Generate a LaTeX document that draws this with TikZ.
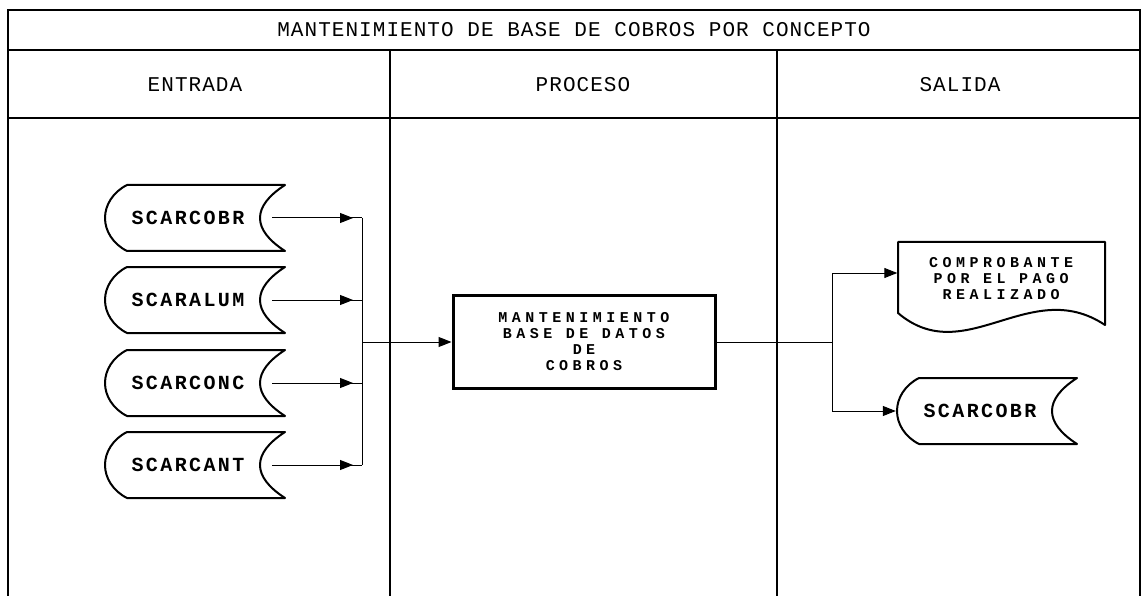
\documentclass[tikz,border=0pt]{standalone}
\usepackage{fontspec}
\usetikzlibrary{arrows.meta,calc,decorations.markings}
\newfontfamily\plotfont[LetterSpace=12]{Liberation Mono}
\newfontfamily\headfont[LetterSpace=5]{Liberation Mono}
\newfontfamily\smallfont[LetterSpace=30]{Liberation Mono}
\tikzset{
  frame/.style={line width=1.4pt},
  headtext/.style={font=\headfont\fontsize{21}{21}\selectfont},
  storebox/.style={font=\plotfont\bfseries\fontsize{20}{20}\selectfont, minimum width=168pt, minimum height=66pt, inner sep=0pt},
  docbox/.style={font=\smallfont\bfseries\fontsize{15}{16}\selectfont, align=center, minimum width=207pt, inner sep=0pt},
  procbox/.style={draw, line width=3pt, align=center, minimum width=262pt, minimum height=93pt, font=\smallfont\bfseries\fontsize{15}{16}\selectfont},
  shapeline/.style={line width=2pt, line join=round},
  flow/.style={line width=1pt, -{Triangle[length=13pt,width=10pt]}},
  midflow/.style={line width=1pt, postaction={decorate}, decoration={markings, mark=at position -9pt with {\arrow{Triangle[length=13pt,width=10pt]}}}}
}
\begin{document}
\begin{tikzpicture}[x=1pt, y=-1pt]
  \useasboundingbox (0,0) rectangle (1146,596);
  % table frame
  \draw[frame] (8,596) -- (8,10) -- (1140,10) -- (1140,596);
  \draw[frame] (8,50) -- (1140,50);
  \draw[frame] (8,118) -- (1140,118);
  \draw[frame] (390,50) -- (390,596);
  \draw[frame] (777,50) -- (777,596);
  \node[headtext] (title) at (574,30) {MANTENIMIENTO DE BASE DE COBROS POR CONCEPTO};
  \node[headtext] (hin) at (195,85) {ENTRADA};
  \node[headtext] (hproc) at (583,85) {PROCESO};
  \node[headtext] (hout) at (960,85) {SALIDA};
  % archivos de entrada
  \node[storebox] (in1) at (188,218) {SCARCOBR};
  \node[storebox] (in2) at (188,300) {SCARALUM};
  \node[storebox] (in3) at (188,383) {SCARCONC};
  \node[storebox] (in4) at (188,465) {SCARCANT};
  % proceso
  \node[procbox] (proc) at (584,342) {MANTENIMIENTO\\BASE DE DATOS\\DE\\COBROS};
  % salida
  \node[docbox] (doc) at (1001,279) {COMPROBANTE\\POR EL PAGO\\REALIZADO};
  \node[storebox] (out1) at (980,411) {SCARCOBR};
  \foreach \n in {in1,in2,in3,in4,out1}
    \draw[shapeline, shift={(\n.center)}] (97,-33) -- (-61,-33)
      .. controls (-75,-26) and (-83,-13) .. (-83,0)
      .. controls (-83,13) and (-75,26) .. (-61,33) -- (97,33)
      .. controls (80,22) and (72,11) .. (72,0)
      .. controls (72,-11) and (80,-22) .. (97,-33) -- cycle;
  \draw[shapeline, shift={(doc.center)}] (-103,34) -- (-103,-37) -- (104,-37) -- (104,46)
    .. controls (29,-4) and (-36,91) .. (-103,34) -- cycle;
  % conectores
  \coordinate (lbus) at (362,342);
  \coordinate (rbus) at (832,342);
  \foreach \n in {in1,in2,in3,in4}
    \draw[midflow] (\n.east) -- (\n.east -| lbus);
  \draw[line width=1pt] (in1.east -| lbus) -- (in4.east -| lbus);
  \draw[flow] (lbus) -- (proc.west);
  \draw[line width=1pt] (proc.east) -- (rbus);
  \draw[flow] (rbus) |- ([yshift=6pt]doc.west);
  \draw[flow] (rbus) |- (out1.west);
\end{tikzpicture}
\end{document}
